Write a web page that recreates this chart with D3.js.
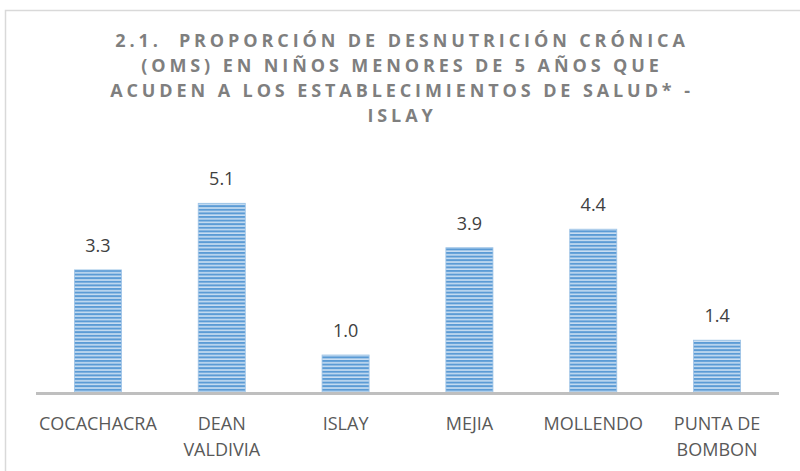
<!DOCTYPE html>
<html>
<head>
<meta charset="utf-8">
<script src="https://cdn.jsdelivr.net/npm/d3@7"></script>
<style>
  body { margin: 0; background: #fff; }
  svg { display: block; }
  .title text { white-space: pre; }
</style>
</head>
<body>
<svg id="mainsvg" width="800" height="471"></svg>
<script>
const categories = [['COCACHACRA'], ['DEAN', 'VALDIVIA'], ['ISLAY'], ['MEJIA'], ['MOLLENDO'], ['PUNTA DE', 'BOMBON']];
const values = [3.3, 5.1, 1.0, 3.9, 4.4, 1.4];
const titleLines = [
  '2.1.  PROPORCIÓN DE DESNUTRICIÓN CRÓNICA',
  '(OMS) EN NIÑOS MENORES DE 5 AÑOS QUE',
  'ACUDEN A LOS ESTABLECIMIENTOS DE SALUD* -',
  'ISLAY'
];

const svg = d3.select('#mainsvg');
const width = +svg.attr('width');
const height = +svg.attr('height');
const margin = { top: 170, right: 21, bottom: 79, left: 36 };
const baseY = height - margin.bottom;

// chart frame: only top and left edges are visible in the crop
svg.append('path')
  .attr('d', `M5.5,${height} V10.5 H${width}`)
  .attr('fill', 'none')
  .attr('stroke', '#d9d9d9')
  .attr('stroke-width', 1.5);

// striped fill
const defs = svg.append('defs');
const pat = defs.append('pattern')
  .attr('id', 'stripes')
  .attr('patternUnits', 'userSpaceOnUse')
  .attr('width', 8).attr('height', 3.6);
pat.append('rect').attr('width', 8).attr('height', 3.6).attr('fill', '#c9def2');
pat.append('rect').attr('width', 8).attr('height', 2).attr('fill', '#5b9bd5');

// title
svg.append('g')
  .attr('class', 'title')
  .selectAll('text')
  .data(titleLines)
  .join('text')
  .attr('x', 402)
  .attr('y', (d, i) => 47 + i * 25)
  .attr('text-anchor', 'middle')
  .attr('font-family', 'Open Sans, sans-serif')
  .attr('font-weight', 'bold')
  .attr('font-size', 18)
  .attr('letter-spacing', 3.9)
  .attr('fill', '#7f7f7f')
  .text(d => d);

const x = d3.scaleBand()
  .domain(d3.range(categories.length))
  .range([margin.left, width - margin.right])
  .paddingInner(0.62)
  .paddingOuter(0.31);

const y = d3.scaleLinear()
  .domain([0, 6])
  .range([baseY, margin.top]);

svg.append('g')
  .selectAll('rect')
  .data(values)
  .join('rect')
  .attr('x', (d, i) => x(i))
  .attr('y', d => y(d))
  .attr('width', x.bandwidth())
  .attr('height', d => y(0) - y(d))
  .attr('fill', 'url(#stripes)')
  .attr('stroke', '#9dc3e6')
  .attr('stroke-width', 0.8);

svg.append('g')
  .selectAll('text')
  .data(values)
  .join('text')
  .attr('x', (d, i) => x(i) + x.bandwidth() / 2)
  .attr('y', d => y(d) - 18)
  .attr('text-anchor', 'middle')
  .attr('font-family', 'Open Sans, sans-serif')
  .attr('font-size', 18)
  .attr('fill', '#404040')
  .text(d => d.toFixed(1));

// axis line
svg.append('line')
  .attr('x1', margin.left).attr('x2', width - margin.right)
  .attr('y1', baseY + 1.5).attr('y2', baseY + 1.5)
  .attr('stroke', '#bfbfbf')
  .attr('stroke-width', 3);

// category labels, one text per line
const catLines = categories.flatMap((lines, i) => lines.map((t, j) => ({ t, i, j })));
svg.append('g')
  .selectAll('text')
  .data(catLines)
  .join('text')
  .attr('x', d => x(d.i) + x.bandwidth() / 2)
  .attr('y', d => baseY + 38 + d.j * 26)
  .attr('text-anchor', 'middle')
  .attr('font-family', 'Open Sans, sans-serif')
  .attr('font-size', 18)
  .attr('fill', '#595959')
  .text(d => d.t);
</script>
</body>
</html>
